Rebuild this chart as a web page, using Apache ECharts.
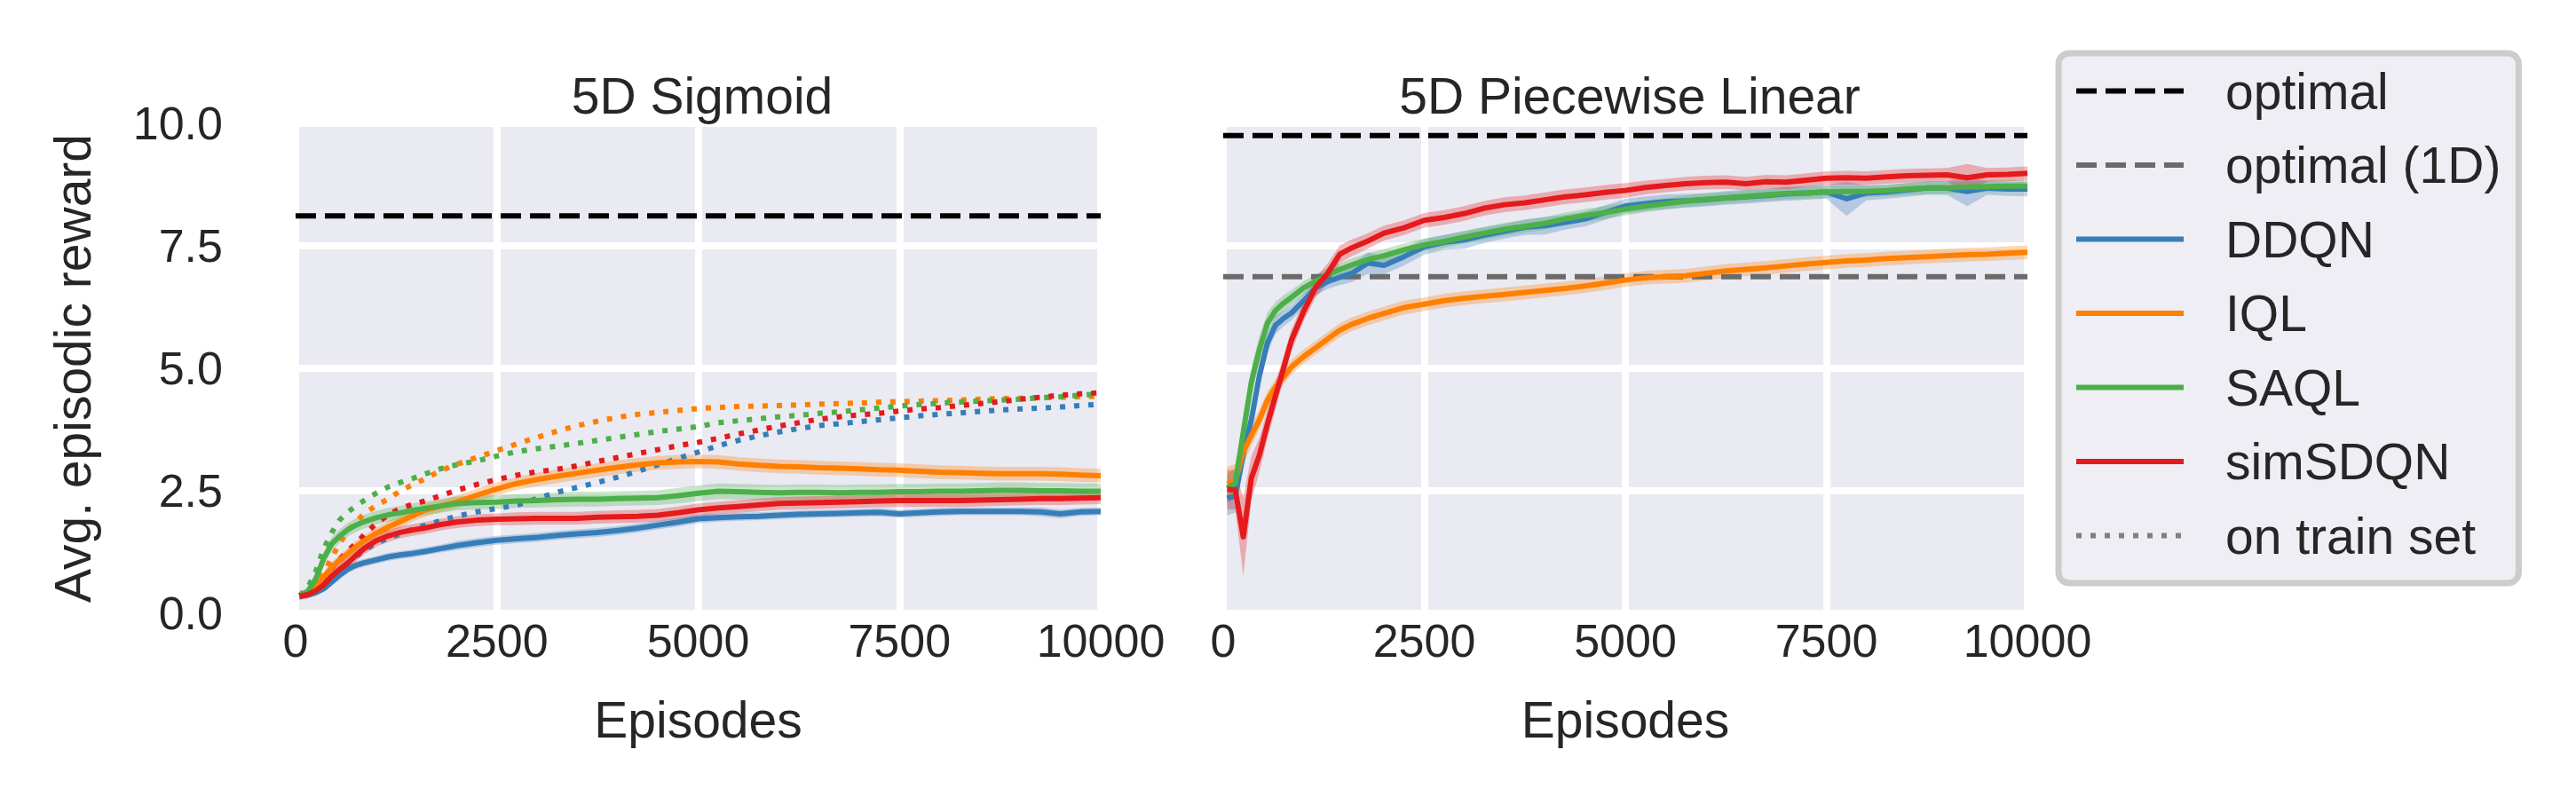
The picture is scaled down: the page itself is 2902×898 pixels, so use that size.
<!DOCTYPE html>
<html>
<head>
<meta charset="utf-8">
<script src="https://cdn.jsdelivr.net/npm/echarts@6/dist/echarts.min.js"></script>
<style>
  html, body { margin: 0; padding: 0; background: #ffffff; }
  #chart { width: 2902px; height: 898px; }
</style>
</head>
<body>
<div id="chart"></div>
<script>
// episodes where every curve is sampled (both panels)
var episodes = [50, 150, 250, 350, 450, 550, 650, 750, 850,
  1000, 1150, 1300, 1450, 1600, 1800, 2000,
  2250, 2500, 2750, 3000, 3250, 3500, 3750, 4000, 4250, 4500, 4750, 5000,
  5250, 5500, 5750, 6000, 6250, 6500, 6750, 7000, 7250, 7500, 7750, 8000,
  8250, 8500, 8750, 9000, 9250, 9500, 9750, 10000];

var yTicks = [0, 2.5, 5, 7.5, 10];
var xTicks = [0, 2500, 5000, 7500, 10000];

// 5D Sigmoid - evaluation curves (solid)
var sigDDQN = [0.35, 0.37, 0.42, 0.50, 0.64, 0.78, 0.90, 0.98, 1.03,
  1.09, 1.15, 1.19, 1.22, 1.26, 1.32, 1.38,
  1.44, 1.49, 1.52, 1.55, 1.59, 1.62, 1.65, 1.69, 1.74, 1.80, 1.86, 1.93,
  1.95, 1.97, 1.98, 2.00, 2.02, 2.03, 2.04, 2.05, 2.06, 2.03, 2.05, 2.07,
  2.08, 2.08, 2.08, 2.08, 2.07, 2.03, 2.07, 2.08];
var sigIQL = [0.36, 0.42, 0.55, 0.74, 0.94, 1.09, 1.22, 1.36, 1.48,
  1.63, 1.76, 1.87, 1.99, 2.10, 2.19, 2.27,
  2.41, 2.54, 2.65, 2.73, 2.80, 2.86, 2.92, 2.98, 3.03, 3.07, 3.09, 3.10,
  3.09, 3.05, 3.02, 3.00, 2.99, 2.97, 2.96, 2.95, 2.93, 2.92, 2.90, 2.88,
  2.87, 2.86, 2.85, 2.85, 2.85, 2.84, 2.82, 2.81];
var sigSAQL = [0.36, 0.44, 0.70, 1.12, 1.42, 1.58, 1.71, 1.80, 1.87,
  1.95, 2.01, 2.05, 2.10, 2.14, 2.19, 2.24,
  2.26, 2.27, 2.29, 2.30, 2.32, 2.33, 2.33, 2.34, 2.35, 2.36, 2.40, 2.45,
  2.49, 2.48, 2.47, 2.46, 2.47, 2.47, 2.46, 2.47, 2.47, 2.48, 2.48, 2.49,
  2.49, 2.50, 2.51, 2.51, 2.50, 2.50, 2.49, 2.49];
var sigSimSDQN = [0.35, 0.38, 0.46, 0.58, 0.76, 0.90, 1.03, 1.18, 1.32,
  1.48, 1.58, 1.65, 1.70, 1.74, 1.81, 1.86,
  1.90, 1.92, 1.93, 1.94, 1.94, 1.94, 1.96, 1.97, 1.98, 2.00, 2.05, 2.11,
  2.15, 2.18, 2.21, 2.24, 2.25, 2.26, 2.27, 2.28, 2.29, 2.30, 2.30, 2.30,
  2.30, 2.31, 2.32, 2.33, 2.34, 2.34, 2.35, 2.36];

// 5D Sigmoid - on train set (dotted)
var sigTrainDDQN = [0.35, 0.37, 0.44, 0.56, 0.72, 0.88, 1.02, 1.16, 1.28,
  1.43, 1.53, 1.62, 1.71, 1.79, 1.89, 1.98,
  2.07, 2.14, 2.21, 2.34, 2.47, 2.57, 2.67, 2.78, 2.90, 3.03, 3.16, 3.29,
  3.42, 3.53, 3.62, 3.70, 3.77, 3.83, 3.87, 3.91, 3.95, 3.99, 4.03, 4.06,
  4.09, 4.12, 4.15, 4.17, 4.19, 4.21, 4.24, 4.27];
var sigTrainIQL = [0.36, 0.40, 0.55, 0.82, 1.14, 1.44, 1.68, 1.87, 2.03,
  2.20, 2.33, 2.50, 2.62, 2.74, 2.91, 3.04,
  3.18, 3.32, 3.46, 3.59, 3.72, 3.83, 3.92, 4.00, 4.06, 4.10, 4.14, 4.18,
  4.20, 4.22, 4.23, 4.24, 4.25, 4.27, 4.28, 4.29, 4.31, 4.32, 4.33, 4.34,
  4.35, 4.37, 4.38, 4.39, 4.40, 4.41, 4.42, 4.43];
var sigTrainSAQL = [0.36, 0.52, 0.85, 1.32, 1.65, 1.91, 2.07, 2.19, 2.30,
  2.45, 2.58, 2.67, 2.75, 2.84, 2.95, 3.03,
  3.11, 3.21, 3.30, 3.36, 3.41, 3.47, 3.53, 3.59, 3.65, 3.71, 3.76, 3.81,
  3.89, 3.93, 3.97, 4.01, 4.04, 4.08, 4.11, 4.15, 4.19, 4.23, 4.26, 4.29,
  4.31, 4.33, 4.35, 4.37, 4.40, 4.42, 4.45, 4.48];
var sigTrainSimSDQN = [0.35, 0.38, 0.50, 0.72, 0.93, 1.10, 1.28, 1.42, 1.60,
  1.83, 2.01, 2.14, 2.22, 2.29, 2.40, 2.51,
  2.63, 2.73, 2.82, 2.89, 2.94, 3.01, 3.10, 3.18, 3.26, 3.34, 3.42, 3.49,
  3.57, 3.66, 3.74, 3.82, 3.89, 3.96, 4.01, 4.05, 4.08, 4.13, 4.17, 4.20,
  4.24, 4.28, 4.32, 4.37, 4.41, 4.45, 4.48, 4.50];

// 5D Sigmoid - half width of the shaded confidence band
var sigBandDDQN = [0.05, 0.05, 0.06, 0.06, 0.07, 0.08, 0.08, 0.08, 0.08,
  0.08, 0.08, 0.08, 0.08, 0.08, 0.08, 0.09,
  0.09, 0.09, 0.09, 0.09, 0.09, 0.09, 0.09, 0.09, 0.09, 0.09, 0.09, 0.09,
  0.08, 0.08, 0.08, 0.08, 0.08, 0.08, 0.08, 0.08, 0.08, 0.08, 0.08, 0.08,
  0.08, 0.08, 0.08, 0.08, 0.09, 0.09, 0.08, 0.08];
var sigBandIQL = [0.08, 0.08, 0.09, 0.10, 0.11, 0.11, 0.12, 0.12, 0.12,
  0.12, 0.12, 0.12, 0.12, 0.13, 0.13, 0.13,
  0.13, 0.13, 0.13, 0.14, 0.14, 0.14, 0.14, 0.14, 0.14, 0.14, 0.14, 0.14,
  0.14, 0.14, 0.14, 0.14, 0.14, 0.14, 0.14, 0.14, 0.14, 0.14, 0.14, 0.14,
  0.14, 0.14, 0.14, 0.14, 0.14, 0.14, 0.14, 0.14];
var sigBandSAQL = [0.08, 0.09, 0.12, 0.14, 0.14, 0.14, 0.14, 0.14, 0.14,
  0.14, 0.14, 0.14, 0.14, 0.14, 0.14, 0.14,
  0.14, 0.14, 0.14, 0.14, 0.15, 0.15, 0.15, 0.15, 0.15, 0.15, 0.16, 0.16,
  0.16, 0.16, 0.16, 0.16, 0.16, 0.16, 0.16, 0.16, 0.16, 0.16, 0.16, 0.16,
  0.16, 0.16, 0.16, 0.16, 0.16, 0.16, 0.16, 0.16];
var sigBandSimSDQN = [0.08, 0.08, 0.09, 0.10, 0.11, 0.12, 0.12, 0.12, 0.12,
  0.12, 0.12, 0.12, 0.12, 0.12, 0.12, 0.12,
  0.12, 0.12, 0.13, 0.13, 0.13, 0.13, 0.13, 0.13, 0.13, 0.13, 0.13, 0.13,
  0.13, 0.13, 0.13, 0.13, 0.13, 0.13, 0.13, 0.13, 0.13, 0.13, 0.13, 0.13,
  0.13, 0.13, 0.13, 0.13, 0.13, 0.13, 0.13, 0.13];

// 5D Piecewise Linear - evaluation curves
var pwDDQN = [2.35, 2.40, 3.25, 3.95, 4.85, 5.52, 5.88, 6.02, 6.13,
  6.38, 6.64, 6.77, 6.86, 6.94, 7.15, 7.10,
  7.28, 7.48, 7.57, 7.62, 7.72, 7.80, 7.88, 7.91, 7.98, 8.05, 8.18, 8.31,
  8.36, 8.40, 8.42, 8.44, 8.48, 8.50, 8.53, 8.56, 8.58, 8.60, 8.46, 8.58,
  8.60, 8.64, 8.68, 8.68, 8.61, 8.68, 8.66, 8.66];
var pwIQL = [2.64, 2.70, 3.30, 3.63, 3.95, 4.35, 4.62, 4.82, 5.03,
  5.24, 5.42, 5.60, 5.78, 5.90, 6.02, 6.12,
  6.24, 6.31, 6.38, 6.43, 6.47, 6.51, 6.55, 6.59, 6.63, 6.68, 6.74, 6.80,
  6.85, 6.87, 6.89, 6.94, 6.99, 7.02, 7.05, 7.09, 7.13, 7.16, 7.19, 7.21,
  7.24, 7.26, 7.28, 7.30, 7.32, 7.33, 7.35, 7.37];
var pwSAQL = [2.55, 2.66, 3.70, 4.72, 5.38, 5.92, 6.18, 6.33, 6.45,
  6.64, 6.78, 6.91, 7.02, 7.11, 7.22, 7.30,
  7.42, 7.52, 7.59, 7.68, 7.76, 7.84, 7.90, 7.96, 8.05, 8.12, 8.18, 8.25,
  8.31, 8.36, 8.41, 8.45, 8.48, 8.51, 8.54, 8.57, 8.58, 8.60, 8.61, 8.61,
  8.63, 8.66, 8.68, 8.68, 8.70, 8.71, 8.72, 8.72];
var pwSimSDQN = [2.53, 2.52, 1.56, 2.76, 3.23, 3.86, 4.44, 5.00, 5.58,
  6.16, 6.65, 6.94, 7.33, 7.46, 7.60, 7.76,
  7.87, 8.02, 8.08, 8.16, 8.27, 8.34, 8.38, 8.44, 8.50, 8.54, 8.59, 8.63,
  8.69, 8.73, 8.77, 8.79, 8.80, 8.77, 8.81, 8.80, 8.84, 8.88, 8.89, 8.88,
  8.91, 8.93, 8.94, 8.95, 8.89, 8.95, 8.96, 8.98];

// 5D Piecewise Linear - half width of the shaded confidence band
var pwBandDDQN = [0.35, 0.35, 0.30, 0.25, 0.25, 0.20, 0.18, 0.16, 0.15,
  0.15, 0.15, 0.15, 0.16, 0.18, 0.22, 0.18,
  0.18, 0.16, 0.15, 0.18, 0.16, 0.15, 0.16, 0.18, 0.15, 0.15, 0.15, 0.15,
  0.15, 0.15, 0.14, 0.14, 0.14, 0.14, 0.14, 0.14, 0.14, 0.14, 0.35, 0.15,
  0.14, 0.14, 0.14, 0.14, 0.30, 0.14, 0.14, 0.15];
var pwBandIQL = [0.35, 0.35, 0.25, 0.22, 0.20, 0.18, 0.16, 0.15, 0.15,
  0.14, 0.14, 0.14, 0.14, 0.14, 0.14, 0.14,
  0.14, 0.14, 0.14, 0.14, 0.14, 0.14, 0.14, 0.14, 0.14, 0.14, 0.14, 0.14,
  0.14, 0.14, 0.14, 0.14, 0.14, 0.14, 0.14, 0.14, 0.14, 0.14, 0.14, 0.14,
  0.14, 0.14, 0.14, 0.14, 0.14, 0.14, 0.14, 0.14];
var pwBandSAQL = [0.30, 0.30, 0.30, 0.30, 0.28, 0.22, 0.18, 0.16, 0.15,
  0.14, 0.14, 0.14, 0.13, 0.13, 0.13, 0.13,
  0.13, 0.13, 0.13, 0.13, 0.13, 0.13, 0.13, 0.13, 0.13, 0.13, 0.13, 0.13,
  0.12, 0.12, 0.12, 0.12, 0.12, 0.12, 0.12, 0.12, 0.12, 0.12, 0.12, 0.12,
  0.12, 0.12, 0.12, 0.12, 0.12, 0.12, 0.12, 0.12];
var pwBandSimSDQN = [0.40, 0.40, 0.80, 0.45, 0.35, 0.30, 0.28, 0.25, 0.22,
  0.20, 0.20, 0.20, 0.18, 0.17, 0.16, 0.15,
  0.15, 0.15, 0.15, 0.15, 0.15, 0.15, 0.15, 0.15, 0.15, 0.15, 0.15, 0.15,
  0.14, 0.14, 0.14, 0.14, 0.14, 0.14, 0.14, 0.14, 0.14, 0.14, 0.14, 0.14,
  0.14, 0.14, 0.14, 0.14, 0.28, 0.14, 0.14, 0.14];

// reference levels (dashed lines)
var optimalSigmoid = 8.11;
var optimalPiecewise = 9.75;
var optimal1DPiecewise = 6.87;

var methods = ['DDQN', 'IQL', 'SAQL', 'simSDQN'];
var methodColors = ['#377eb8', '#ff7f00', '#4daf4a', '#e41a1c'];
var panelTitles = ['5D Sigmoid', '5D Piecewise Linear'];
var legendNames = ['optimal', 'optimal (1D)', 'DDQN', 'IQL', 'SAQL', 'simSDQN', 'on train set'];

var FONT = "'Liberation Sans', Arial, Helvetica, sans-serif";
var TEXT_COLOR = '#262626';

function toPoints(ys) {
  return episodes.map(function (x, i) { return [x, ys[i]]; });
}

// shaded band: one polygon through the upper and lower edge, positioned by the axes
function bandSeries(gridIdx, name, ys, half, color) {
  return {
    type: 'custom',
    name: name + ' band',
    xAxisIndex: gridIdx,
    yAxisIndex: gridIdx,
    silent: true,
    clip: true,
    z: 1,
    data: [[episodes[0], ys[0]]],
    encode: { x: 0, y: 1 },
    renderItem: function (params, api) {
      var upper = [], lower = [];
      for (var i = 0; i < episodes.length; i++) {
        upper.push(api.coord([episodes[i], ys[i] + half[i]]));
        lower.unshift(api.coord([episodes[i], ys[i] - half[i]]));
      }
      return {
        type: 'polygon',
        shape: { points: upper.concat(lower) },
        style: { fill: color, opacity: 0.3 }
      };
    }
  };
}

function curveSeries(gridIdx, name, ys, color, dotted, z) {
  return {
    type: 'line',
    name: name,
    xAxisIndex: gridIdx,
    yAxisIndex: gridIdx,
    data: toPoints(ys),
    symbol: 'none',
    showSymbol: false,
    silent: true,
    z: z,
    itemStyle: { color: color },
    lineStyle: {
      color: color,
      width: 6,
      type: dotted ? [6, 10] : 'solid',
      cap: 'butt',
      join: 'round'
    }
  };
}

function levelSeries(gridIdx, name, value, color) {
  return {
    type: 'line',
    name: name,
    xAxisIndex: gridIdx,
    yAxisIndex: gridIdx,
    data: [[0, value], [10000, value]],
    symbol: 'none',
    showSymbol: false,
    silent: true,
    z: 2,
    itemStyle: { color: color },
    lineStyle: { color: color, width: 6, type: [23, 10], cap: 'butt' }
  };
}

var sigTest = [sigDDQN, sigIQL, sigSAQL, sigSimSDQN];
var sigTrain = [sigTrainDDQN, sigTrainIQL, sigTrainSAQL, sigTrainSimSDQN];
var sigBands = [sigBandDDQN, sigBandIQL, sigBandSAQL, sigBandSimSDQN];
var pwTest = [pwDDQN, pwIQL, pwSAQL, pwSimSDQN];
var pwBands = [pwBandDDQN, pwBandIQL, pwBandSAQL, pwBandSimSDQN];

var series = [];
series.push(levelSeries(0, 'optimal', optimalSigmoid, '#000000'));
series.push(levelSeries(1, 'optimal', optimalPiecewise, '#000000'));
series.push(levelSeries(1, 'optimal (1D)', optimal1DPiecewise, '#6a6a6a'));

methods.forEach(function (m, k) {
  series.push(bandSeries(0, m, sigTest[k], sigBands[k], methodColors[k]));
  series.push(bandSeries(1, m, pwTest[k], pwBands[k], methodColors[k]));
});
methods.forEach(function (m, k) {
  series.push(curveSeries(0, m + ' train', sigTrain[k], methodColors[k], true, 3));
});
methods.forEach(function (m, k) {
  series.push(curveSeries(0, m, sigTest[k], methodColors[k], false, 4));
  series.push(curveSeries(1, m, pwTest[k], methodColors[k], false, 4));
});
// legend-only entry for the dotted "on train set" style
series.push({
  type: 'line', name: 'on train set', xAxisIndex: 0, yAxisIndex: 0, data: [],
  symbol: 'none', itemStyle: { color: '#808080' },
  lineStyle: { color: '#808080', width: 6, type: [6, 10], cap: 'butt' }
});

function xAxisFor(gridIdx) {
  return {
    type: 'value',
    gridIndex: gridIdx,
    min: xTicks[0],
    max: xTicks[xTicks.length - 1],
    interval: 2500,
    axisLine: { show: false },
    axisTick: { show: false },
    splitLine: { show: true, lineStyle: { color: '#ffffff', width: 8 } },
    axisLabel: {
      fontSize: 52, color: TEXT_COLOR, fontFamily: FONT, margin: 5,
      formatter: function (v) { return String(v); }
    },
    name: 'Episodes',
    nameLocation: 'middle',
    nameGap: 91,
    nameTextStyle: { fontSize: 57, color: TEXT_COLOR, fontFamily: FONT }
  };
}

function yAxisFor(gridIdx) {
  var ax = {
    type: 'value',
    gridIndex: gridIdx,
    min: yTicks[0],
    max: yTicks[yTicks.length - 1],
    interval: 2.5,
    axisLine: { show: false },
    axisTick: { show: false },
    splitLine: { show: true, lineStyle: { color: '#ffffff', width: 8 } },
    axisLabel: {
      show: gridIdx === 0,
      fontSize: 52, color: TEXT_COLOR, fontFamily: FONT, margin: 82,
      formatter: function (v) { return v.toFixed(1); }
    }
  };
  if (gridIdx === 0) {
    ax.name = 'Avg. episodic reward';
    ax.nameLocation = 'middle';
    ax.nameRotate = 90;
    ax.nameGap = 223;
    ax.nameTextStyle = { fontSize: 57, color: TEXT_COLOR, fontFamily: FONT };
  }
  return ax;
}

var chart = echarts.init(document.getElementById('chart'), null, { renderer: 'svg' });

chart.setOption({
  animation: false,
  backgroundColor: '#ffffff',
  title: [
    { text: panelTitles[0], left: 786, top: 74, textAlign: 'center',
      textStyle: { fontSize: 57, fontWeight: 'normal', color: TEXT_COLOR, fontFamily: FONT } },
    { text: panelTitles[1], left: 1831, top: 74, textAlign: 'center',
      textStyle: { fontSize: 57, fontWeight: 'normal', color: TEXT_COLOR, fontFamily: FONT } }
  ],
  grid: [
    { left: 333, top: 139, width: 907, height: 552, show: true, backgroundColor: '#EAEAF2', borderWidth: 0 },
    { left: 1378, top: 139, width: 906, height: 552, show: true, backgroundColor: '#EAEAF2', borderWidth: 0 }
  ],
  xAxis: [xAxisFor(0), xAxisFor(1)],
  yAxis: [yAxisFor(0), yAxisFor(1)],
  legend: {
    data: legendNames,
    orient: 'vertical',
    left: 2319,
    top: 60,
    padding: [14, 20, 25, 17],
    itemGap: 26.5,
    itemWidth: 121,
    itemHeight: 20,
    selectedMode: false,
    backgroundColor: '#EEEEF4',
    borderColor: '#CCCCCC',
    borderWidth: 7,
    borderRadius: 12,
    itemStyle: { opacity: 0 },
    lineStyle: { width: 6 },
    textStyle: {
      fontSize: 57, color: TEXT_COLOR, fontFamily: FONT,
      lineHeight: 57, padding: [0, 0, 0, 42]
    }
  },
  series: series
});
</script>
</body>
</html>
